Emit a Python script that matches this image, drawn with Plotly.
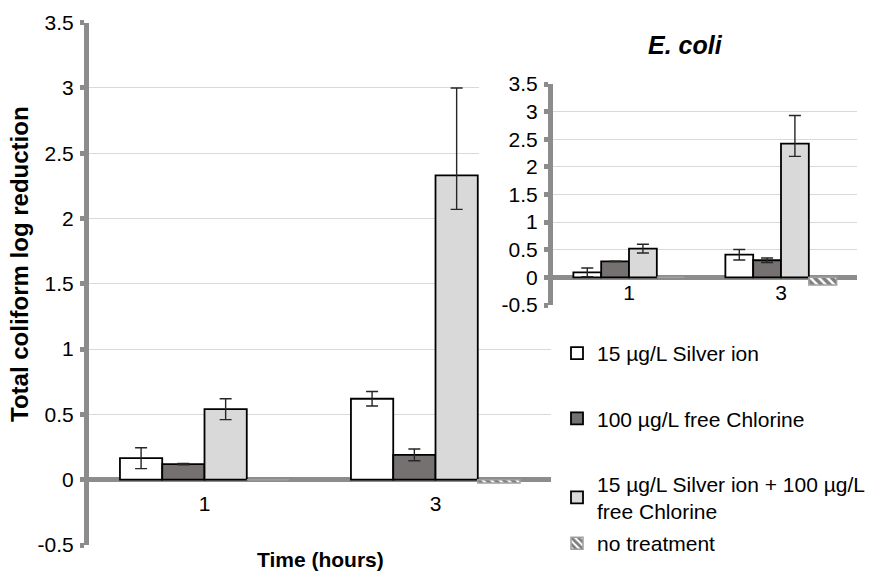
import plotly.graph_objects as go

W, H = 871, 571

# ---- data -------------------------------------------------------------
time_labels = ["1", "3"]

# Total coliform (main panel)
silver = [0.165, 0.62]
silver_err = [0.08, 0.055]
chlorine = [0.12, 0.19]
chlorine_err = [0.005, 0.045]
combined = [0.54, 2.33]
combined_err_plus = [0.08, 0.67]
combined_err_minus = [0.08, 0.26]
no_treatment = [0.0, -0.025]

# E. coli (inset panel)
silver_ec = [0.09, 0.41]
silver_ec_err = [0.08, 0.095]
chlorine_ec = [0.29, 0.31]
chlorine_ec_err = [0.005, 0.04]
combined_ec = [0.52, 2.42]
combined_ec_err_plus = [0.08, 0.51]
combined_ec_err_minus = [0.08, 0.23]
no_treatment_ec = [0.0, -0.14]

y_ticks = [-0.5, 0, 0.5, 1, 1.5, 2, 2.5, 3, 3.5]
y_tick_text = ["-0.5", "0", "0.5", "1", "1.5", "2", "2.5", "3", "3.5"]

names = [
    "15 µg/L Silver ion",
    "100 µg/L free Chlorine",
    "15 µg/L Silver ion + 100 µg/L<br>free Chlorine",
    "no treatment",
]

# ---- styles -----------------------------------------------------------
FONT = "Liberation Sans, Arial, sans-serif"
AXIS_GRAY = "#8c8c8c"
GRID = "#d9d9d9"
fills = ["#ffffff", "#767171", "#d9d9d9", "#ffffff"]
ERR = dict(color="#262626", thickness=1.4, width=6)


def px_x(p):
    return p / W


def px_y(p):
    return (H - p) / H


fig = go.Figure()


def add_panel(xa, ya, vals, errs, show_legend):
    for i, (v, e) in enumerate(zip(vals, errs)):
        marker = dict(color=fills[i], line=dict(color="#000000", width=1.8))
        if i == 3:
            marker = dict(
                color="#ffffff",
                line=dict(color="#a0a0a0", width=1.5),
                pattern=dict(shape="\\", fgcolor="#000000", bgcolor="#ffffff",
                             size=6, solidity=0.6),
            )
        err = None
        if e is not None:
            plus, minus = e
            err = dict(type="data", array=plus, arrayminus=minus, visible=True, **ERR)
        fig.add_trace(go.Bar(
            x=time_labels, y=v, name=names[i], marker=marker, error_y=err,
            xaxis=xa, yaxis=ya, showlegend=show_legend,
            legend="legend2" if i == 3 else "legend",
            legendgroup=str(i),
        ))


add_panel("x", "y",
          [silver, chlorine, combined, no_treatment],
          [(silver_err, silver_err), (chlorine_err, chlorine_err),
           (combined_err_plus, combined_err_minus), None],
          True)

# blank subplot whose white background masks the main grid behind the inset
fig.add_trace(go.Scatter(x=[], y=[], xaxis="x2", yaxis="y2", showlegend=False))

add_panel("x3", "y3",
          [silver_ec, chlorine_ec, combined_ec, no_treatment_ec],
          [(silver_ec_err, silver_ec_err), (chlorine_ec_err, chlorine_ec_err),
           (combined_ec_err_plus, combined_ec_err_minus), None],
          False)

tick_font = dict(family=FONT, size=21, color="#000000")

yax_common = dict(
    range=[-0.5, 3.5], tickvals=y_ticks, ticktext=y_tick_text,
    showgrid=True, gridcolor=GRID, gridwidth=1,
    zeroline=True, zerolinecolor=AXIS_GRAY, zerolinewidth=5,
    showline=True, linecolor=AXIS_GRAY, linewidth=5,
    ticks="outside", ticklen=4, tickwidth=5, tickcolor=AXIS_GRAY,
    tickfont=tick_font, ticklabelstandoff=2, fixedrange=True,
)
xax_common = dict(
    type="category", range=[-0.5, 1.5], showgrid=False, zeroline=False,
    showline=False, ticks="", tickfont=tick_font, anchor="free",
    fixedrange=True,
)

legend_font = dict(family=FONT, size=21, color="#000000")

fig.update_layout(
    width=W, height=H,
    margin=dict(l=0, r=0, t=0, b=0, autoexpand=False),
    paper_bgcolor="#ffffff", plot_bgcolor="#ffffff",
    barmode="group", bargap=0.268, bargroupgap=0,
    font=dict(family=FONT, color="#000000"),
    xaxis=dict(domain=[px_x(89), px_x(551)], position=px_y(479.3),
               ticklabelstandoff=10, **xax_common),
    yaxis=dict(domain=[px_y(545), px_y(22.7)], anchor="x", **yax_common),
    xaxis2=dict(domain=[px_x(479), 1.0], anchor="y2", visible=False),
    yaxis2=dict(domain=[px_y(335), 1.0], anchor="x2", visible=False),
    xaxis3=dict(domain=[px_x(553), px_x(857)], position=px_y(276.7),
                ticklabelstandoff=1, **xax_common),
    yaxis3=dict(domain=[px_y(305), px_y(84)], anchor="x3", **yax_common),
    legend=dict(
        x=px_x(557), y=px_y(333), xanchor="left", yanchor="top",
        font=legend_font, traceorder="grouped", tracegroupgap=35,
        bgcolor="rgba(0,0,0,0)",
    ),
    legend2=dict(
        x=px_x(557), y=px_y(523), xanchor="left", yanchor="top",
        font=legend_font, bgcolor="rgba(0,0,0,0)",
    ),
    annotations=[
        dict(text="<b>Total coliform log reduction</b>", x=px_x(20), y=px_y(264),
             xref="paper", yref="paper", xanchor="center", yanchor="middle",
             textangle=-90, showarrow=False, font=dict(family=FONT, size=24)),
        dict(text="<b>Time (hours)</b>", x=px_x(320), y=px_y(559),
             xref="paper", yref="paper", xanchor="center", yanchor="middle",
             showarrow=False, font=dict(family=FONT, size=21)),
        dict(text="<b><i>E. coli</i></b>", x=px_x(685), y=px_y(45),
             xref="paper", yref="paper", xanchor="center", yanchor="middle",
             showarrow=False, font=dict(family=FONT, size=25)),
    ],
    showlegend=True,
)

fig.write_html("out.html")
